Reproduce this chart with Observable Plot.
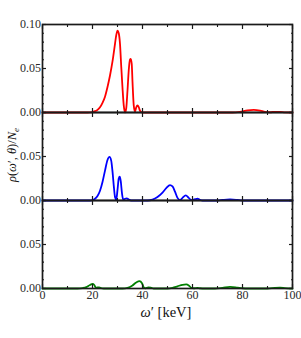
<!DOCTYPE html>
<html><head><meta charset="utf-8">
<script src="https://cdn.jsdelivr.net/npm/d3@7"></script>
<script src="https://cdn.jsdelivr.net/npm/@observablehq/plot@0.6"></script>
<style>body{margin:0;background:#fff}</style>
</head><body><div id="chart"></div>
<script>
// Panels (top to bottom) and their line colours
const panels = ["red", "blue", "green"];
const panelColors = ["#e3261b", "#2152e0", "#1fa322"];

// Series values (omega' in keV, rho/Ne)
const redX = [0,18,20,21,22,23,24,25,26,27,28,29,29.5,30,30.5,31,31.5,32,32.5,33,33.5,34,34.5,35,35.3,35.7,36,36.5,37,37.5,38,38.5,39,39.5,40,76,79,82,84.5,87,89,91,93,95,97,100];
const redY = [0,0,0.0005,0.0015,0.003,0.006,0.011,0.018,0.029,0.042,0.058,0.078,0.088,0.093,0.090,0.078,0.052,0.028,0.008,0.0,0.005,0.025,0.048,0.060,0.061,0.055,0.035,0.008,0.001,0.006,0.008,0.006,0.002,0.0005,0,0,0.0008,0.0025,0.003,0.0022,0.0008,0.0003,0.0008,0.0008,0.0002,0];

const blueX = [0,19,20,21,22,23,24,25,26,26.8,27.5,28,28.5,29,29.5,30,30.5,30.9,31.3,31.8,32.3,33,33.7,34.5,35.5,42,44,46,48,49.5,51,52,53,54,55,56,57.3,58.5,59.5,61,62,63,64,70,72,75,78,80,100];
const blueY = [0,0,0.0005,0.002,0.005,0.011,0.021,0.034,0.046,0.0495,0.045,0.033,0.017,0.004,0.001,0.012,0.025,0.027,0.022,0.008,0.0008,0.002,0.0025,0.001,0,0,0.001,0.004,0.009,0.014,0.0175,0.016,0.010,0.003,0.0005,0.003,0.0058,0.003,0.0005,0.0015,0.002,0.0008,0,0,0.0006,0.0012,0.0006,0,0];

const greenX = [0,14,16,17.5,19,20,20.7,21.3,22,22.7,23.5,24.5,32,34,36,37.5,38.8,39.8,40.6,41.2,42.3,43.3,44.5,50,52,54,56,57.5,58.5,59.5,60.5,62,63,65,69,72,75,78,80,82,90,93,95,97,100];
const greenY = [0,0,0.0005,0.0015,0.004,0.0052,0.004,0.001,0.0012,0.0012,0.0003,0,0,0.0008,0.0035,0.0068,0.0083,0.006,0.001,0.0003,0.0013,0.001,0,0,0.0008,0.0025,0.0042,0.0047,0.0035,0.0008,0.0003,0.0008,0.0003,0,0,0.0008,0.0018,0.001,0.0003,0,0,0.0008,0.001,0.0005,0];

// Tick values
const xMajor = [0,20,40,60,80,100];
const xMinor = [10,30,50,70,90];
const yMajor = [0,0.05,0.1];
const yMinor = [0.01,0.02,0.03,0.04,0.06,0.07,0.08,0.09];
const yLabelTicks = [0,0.05];
const yTopLabelTicks = [0.1];

const series = [[redX, redY], [blueX, blueY], [greenX, greenY]];
const rows = series.flatMap(([xs, ys], i) => xs.map((x, j) => ({panel: panels[i], x, y: ys[j]})));

const ink = "#1a1a1a";
const noText = () => "";
const tickMarks = [];
for (const anchor of ["bottom", "top"]) {
  tickMarks.push(Plot.axisX({anchor, ticks: xMajor, tickSize: -4, tickFormat: noText, label: null, facetAnchor: null, stroke: ink, strokeWidth: 1.2}));
  tickMarks.push(Plot.axisX({anchor, ticks: xMinor, tickSize: -2, tickFormat: noText, label: null, facetAnchor: null, stroke: ink, strokeWidth: 1.1}));
}
for (const anchor of ["left", "right"]) {
  tickMarks.push(Plot.axisY({anchor, ticks: yMajor, tickSize: -4, tickFormat: noText, label: null, facetAnchor: null, stroke: ink, strokeWidth: 1.2}));
  tickMarks.push(Plot.axisY({anchor, ticks: yMinor, tickSize: -2, tickFormat: noText, label: null, facetAnchor: null, stroke: ink, strokeWidth: 1.1}));
}

const svg = Plot.plot({
  width: 301,
  height: 338,
  marginLeft: 42,
  marginRight: 9,
  marginTop: 24,
  marginBottom: 50,
  style: {fontFamily: "'Liberation Serif', serif", fontSize: "12px", background: "#fff", color: "#2a2a2a"},
  x: {domain: [0, 100]},
  y: {domain: [0, 0.1]},
  fy: {domain: panels, axis: null, padding: 0},
  color: {domain: panels, range: panelColors},
  marks: [
    Plot.line(rows, {x: "x", y: "y", fy: "panel", stroke: "panel", strokeWidth: 1.8, curve: "monotone-x"}),
    Plot.frame({stroke: ink, strokeWidth: 1.7}),
    ...tickMarks,
    Plot.axisY({anchor: "left", ticks: yLabelTicks, tickSize: 0, tickPadding: 1.5, tickFormat: d3.format(".2f"), label: null, facetAnchor: null}),
    Plot.axisY({anchor: "left", ticks: yTopLabelTicks, tickSize: 0, tickPadding: 1.5, tickFormat: d3.format(".2f"), label: null, facetAnchor: "top"}),
    Plot.axisX({anchor: "bottom", ticks: xMajor, tickSize: 0, tickPadding: 2, tickFormat: d3.format("d"), label: null, facetAnchor: "bottom"})
  ]
});

const s = d3.select(svg);
const yl = s.append("text")
  .attr("transform", "translate(16,155) rotate(-90)")
  .attr("text-anchor", "middle")
  .attr("font-family", "'Liberation Serif', serif")
  .attr("font-size", 12.5)
  .attr("fill", "#111");
yl.append("tspan").attr("font-style", "italic").text("ρ");
yl.append("tspan").text("(");
yl.append("tspan").attr("font-style", "italic").text("ω");
yl.append("tspan").text("′, ");
yl.append("tspan").attr("font-style", "italic").text("θ");
yl.append("tspan").text(")/");
yl.append("tspan").attr("font-style", "italic").text("N");
yl.append("tspan").attr("font-style", "italic").attr("font-size", 9).attr("dy", 2.5).text("e");

const xl = s.append("text")
  .attr("x", 166).attr("y", 317)
  .attr("text-anchor", "middle")
  .attr("font-family", "'Liberation Serif', serif")
  .attr("font-size", 14.5)
  .attr("fill", "#111");
xl.append("tspan").attr("font-style", "italic").text("ω");
xl.append("tspan").text("′ [keV]");

document.getElementById("chart").append(svg);
</script>
</body></html>
